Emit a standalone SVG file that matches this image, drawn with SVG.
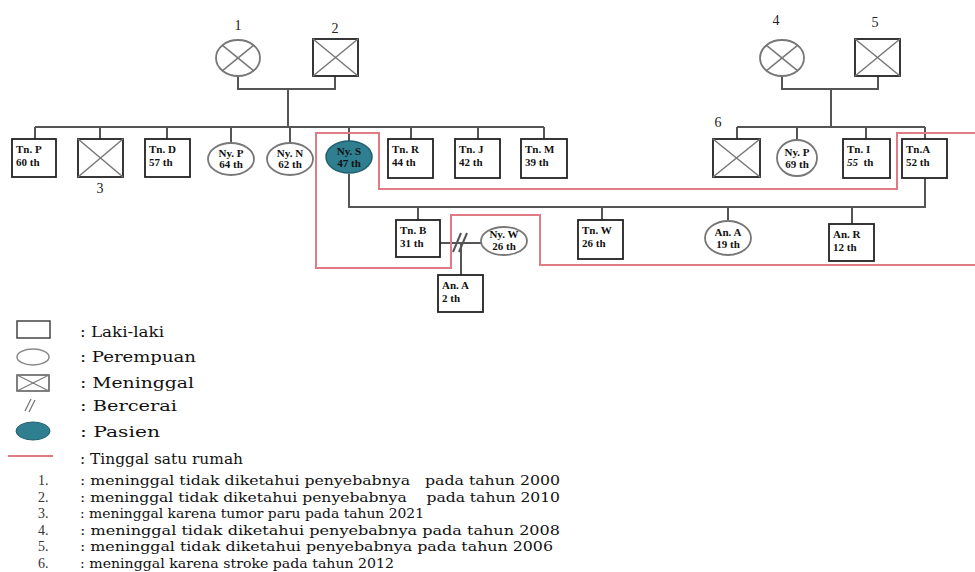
<svg xmlns="http://www.w3.org/2000/svg" width="975" height="572" viewBox="0 0 975 572">
<style>
.ln{stroke:#555;stroke-width:2;fill:none}
.bx{fill:#fff;stroke:#222;stroke-width:1.8}
.el{fill:#fff;stroke:#777;stroke-width:1.8}
.pt{fill:#2f7f91;stroke:#1f5f6f;stroke-width:1.5}
.x{stroke:#777;stroke-width:1.5}
.nt{font-family:"Liberation Serif",serif;font-weight:bold;font-size:11px;fill:#111}
.lb{font-family:"Liberation Serif",serif;font-size:14px;fill:#222;text-anchor:middle}
.lg{font-family:"DejaVu Serif",serif;font-size:15px;fill:#111}
.ls{font-family:"DejaVu Serif",serif;font-size:13px;fill:#111}
.num{font-family:"Liberation Serif",serif;font-size:14px;fill:#333}
.red{stroke:#e07a85;stroke-width:2;fill:none}
</style>
<rect width="975" height="572" fill="#fff"/>

<g id="connectors">
  <polyline class="ln" points="238,76 238,89 335,89 335,76"/>
  <line class="ln" x1="288" y1="89" x2="288" y2="127"/>
  <line class="ln" x1="35" y1="127" x2="544" y2="127"/>
  <line class="ln" x1="35" y1="127" x2="35" y2="139"/>
  <line class="ln" x1="100" y1="127" x2="100" y2="139"/>
  <line class="ln" x1="167" y1="127" x2="167" y2="139"/>
  <line class="ln" x1="231" y1="127" x2="231" y2="143"/>
  <line class="ln" x1="290" y1="127" x2="290" y2="143"/>
  <line class="ln" x1="349" y1="127" x2="349" y2="141"/>
  <line class="ln" x1="411" y1="127" x2="411" y2="139"/>
  <line class="ln" x1="478" y1="127" x2="478" y2="139"/>
  <line class="ln" x1="544" y1="127" x2="544" y2="139"/>
  <polyline class="ln" points="782,76 782,89 878,89 878,76"/>
  <line class="ln" x1="831" y1="89" x2="831" y2="127"/>
  <line class="ln" x1="737" y1="127" x2="925" y2="127"/>
  <line class="ln" x1="737" y1="127" x2="737" y2="139"/>
  <line class="ln" x1="797" y1="127" x2="797" y2="140"/>
  <line class="ln" x1="866" y1="127" x2="866" y2="139"/>
  <line class="ln" x1="925" y1="127" x2="925" y2="139"/>
  <polyline class="ln" points="349,174 349,207 925,207 925,178"/>
  <line class="ln" x1="418" y1="207" x2="418" y2="220"/>
  <line class="ln" x1="602" y1="207" x2="602" y2="220"/>
  <line class="ln" x1="728" y1="207" x2="728" y2="222"/>
  <line class="ln" x1="852" y1="207" x2="852" y2="224"/>
  <line class="ln" x1="440" y1="243" x2="481" y2="243"/>
  <line class="ln" x1="453" y1="252" x2="461" y2="233"/>
  <line class="ln" x1="459" y1="252" x2="467" y2="233"/>
  <line class="ln" x1="461" y1="243" x2="461" y2="275"/>
  <polyline class="red" points="975,133 897,133 897,189 379,189 379,133 316,133 316,268 451,268 451,215 540,215 540,265 975,265"/>
</g>

<g id="gp1">
  <ellipse class="el" cx="238" cy="58" rx="22" ry="18"/>
  <line class="x" x1="222.5" y1="45.3" x2="253.5" y2="70.7"/>
  <line class="x" x1="253.5" y1="45.3" x2="222.5" y2="70.7"/>
  <text class="lb" x="238" y="30">1</text>
</g>
<g id="gp2">
  <rect class="bx" x="313" y="39" width="45" height="37"/>
  <line class="x" x1="313" y1="39" x2="358" y2="76"/>
  <line class="x" x1="358" y1="39" x2="313" y2="76"/>
  <text class="lb" x="335" y="33">2</text>
</g>
<g id="gp4">
  <ellipse class="el" cx="782" cy="58" rx="22" ry="18"/>
  <line class="x" x1="766.5" y1="45.3" x2="797.5" y2="70.7"/>
  <line class="x" x1="797.5" y1="45.3" x2="766.5" y2="70.7"/>
  <text class="lb" x="776" y="25">4</text>
</g>
<g id="gp5">
  <rect class="bx" x="855" y="39" width="45" height="37"/>
  <line class="x" x1="855" y1="39" x2="900" y2="76"/>
  <line class="x" x1="900" y1="39" x2="855" y2="76"/>
  <text class="lb" x="875" y="27">5</text>
</g>

<g id="tn-p"><rect class="bx" x="12" y="139" width="44" height="38"/><text class="nt" x="16" y="153">Tn. P</text><text class="nt" x="16" y="166">60 th</text></g>
<g id="dec3">
  <rect class="bx" x="78" y="139" width="45" height="38"/>
  <line class="x" x1="78" y1="139" x2="123" y2="177"/>
  <line class="x" x1="123" y1="139" x2="78" y2="177"/>
  <text class="lb" x="100" y="193">3</text>
</g>
<g id="tn-d"><rect class="bx" x="145" y="139" width="45" height="38"/><text class="nt" x="149" y="153">Tn. D</text><text class="nt" x="149" y="166">57 th</text></g>
<g id="ny-p1"><ellipse class="el" cx="231" cy="159" rx="23" ry="16"/><text class="nt" x="231" y="157" text-anchor="middle">Ny. P</text><text class="nt" x="231" y="168" text-anchor="middle">64 th</text></g>
<g id="ny-n"><ellipse class="el" cx="290" cy="159" rx="23" ry="16"/><text class="nt" x="290" y="157" text-anchor="middle">Ny. N</text><text class="nt" x="290" y="168" text-anchor="middle">62 th</text></g>
<g id="ny-s"><ellipse class="pt" cx="349" cy="157" rx="23" ry="16"/><text class="nt" x="349" y="155" text-anchor="middle" fill="#12343c">Ny. S</text><text class="nt" x="349" y="167" text-anchor="middle" fill="#12343c">47 th</text></g>
<g id="tn-r"><rect class="bx" x="388" y="139" width="45" height="39"/><text class="nt" x="392" y="153">Tn. R</text><text class="nt" x="392" y="166">44 th</text></g>
<g id="tn-j"><rect class="bx" x="455" y="139" width="45" height="39"/><text class="nt" x="459" y="153">Tn. J</text><text class="nt" x="459" y="166">42 th</text></g>
<g id="tn-m"><rect class="bx" x="521" y="139" width="46" height="39"/><text class="nt" x="525" y="153">Tn. M</text><text class="nt" x="525" y="166">39 th</text></g>

<g id="dec6">
  <rect class="bx" x="713" y="139" width="47" height="38"/>
  <line class="x" x1="713" y1="139" x2="760" y2="177"/>
  <line class="x" x1="760" y1="139" x2="713" y2="177"/>
  <text class="lb" x="718" y="127">6</text>
</g>
<g id="ny-p2"><ellipse class="el" cx="797" cy="158" rx="20" ry="18"/><text class="nt" x="797" y="156" text-anchor="middle">Ny. P</text><text class="nt" x="797" y="168" text-anchor="middle">69 th</text></g>
<g id="tn-i"><rect class="bx" x="843" y="139" width="47" height="39"/><text class="nt" x="847" y="153">Tn. I</text><text class="nt" x="847" y="166" xml:space="preserve"><tspan font-style="italic">55</tspan>  th</text></g>
<g id="tn-a1"><rect class="bx" x="902" y="139" width="45" height="39"/><text class="nt" x="906" y="153">Tn.A</text><text class="nt" x="906" y="166">52 th</text></g>

<g id="tn-b"><rect class="bx" x="396" y="220" width="44" height="37"/><text class="nt" x="400" y="234">Tn. B</text><text class="nt" x="400" y="247">31 th</text></g>
<g id="ny-w"><ellipse class="el" cx="504" cy="241" rx="23" ry="14"/><text class="nt" x="504" y="238" text-anchor="middle">Ny. W</text><text class="nt" x="504" y="250" text-anchor="middle">26 th</text></g>
<g id="an-a1"><rect class="bx" x="438" y="275" width="45" height="37"/><text class="nt" x="442" y="289">An. A</text><text class="nt" x="442" y="302">2 th</text></g>
<g id="tn-w"><rect class="bx" x="578" y="220" width="45" height="39"/><text class="nt" x="582" y="234">Tn. W</text><text class="nt" x="582" y="247">26 th</text></g>
<g id="an-a2"><ellipse class="el" cx="728" cy="238" rx="23" ry="17"/><text class="nt" x="728" y="236" text-anchor="middle">An. A</text><text class="nt" x="728" y="248" text-anchor="middle">19 th</text></g>
<g id="an-r"><rect class="bx" x="829" y="224" width="45" height="37"/><text class="nt" x="833" y="238">An. R</text><text class="nt" x="833" y="251">12 th</text></g>

<g id="legend">
  <rect x="17" y="321" width="33" height="17" fill="#fff" stroke="#444" stroke-width="1.5"/>
  <ellipse cx="33" cy="357" rx="16" ry="8" fill="#fff" stroke="#888" stroke-width="1.5"/>
  <rect x="17" y="375" width="32" height="16" fill="#fff" stroke="#555" stroke-width="1.5"/>
  <line x1="17" y1="375" x2="49" y2="391" stroke="#777" stroke-width="1.2"/>
  <line x1="49" y1="375" x2="17" y2="391" stroke="#777" stroke-width="1.2"/>
  <line x1="25" y1="411" x2="31" y2="399" stroke="#777" stroke-width="1.3"/>
  <line x1="29" y1="412" x2="35" y2="400" stroke="#777" stroke-width="1.3"/>
  <ellipse cx="33" cy="431" rx="17" ry="9" fill="#2f7f91" stroke="#1f5f6f" stroke-width="1"/>
  <line x1="8" y1="456" x2="53" y2="456" stroke="#e07a85" stroke-width="2"/>
  <text class="lg" x="80" y="337" textLength="84" lengthAdjust="spacingAndGlyphs">: Laki-laki</text>
  <text class="lg" x="80" y="362" textLength="116" lengthAdjust="spacingAndGlyphs">: Perempuan</text>
  <text class="lg" x="80" y="388" textLength="114" lengthAdjust="spacingAndGlyphs">: Meninggal</text>
  <text class="lg" x="80" y="411" textLength="97" lengthAdjust="spacingAndGlyphs">: Bercerai</text>
  <text class="lg" x="80" y="437" textLength="80" lengthAdjust="spacingAndGlyphs">: Pasien</text>
  <text class="lg" x="80" y="464" textLength="163" lengthAdjust="spacingAndGlyphs">: Tinggal satu rumah</text>
  <text class="num" x="38" y="485">1.</text>
  <text class="num" x="38" y="502">2.</text>
  <text class="num" x="38" y="518">3.</text>
  <text class="num" x="38" y="535">4.</text>
  <text class="num" x="38" y="551">5.</text>
  <text class="num" x="38" y="568">6.</text>
  <text class="ls" x="80" y="485" textLength="480" lengthAdjust="spacingAndGlyphs" xml:space="preserve">: meninggal tidak diketahui penyebabnya   pada tahun 2000</text>
  <text class="ls" x="80" y="502" textLength="480" lengthAdjust="spacingAndGlyphs" xml:space="preserve">: meninggal tidak diketahui penyebabnya    pada tahun 2010</text>
  <text class="ls" x="80" y="518" textLength="344" lengthAdjust="spacingAndGlyphs">: meninggal karena tumor paru pada tahun 2021</text>
  <text class="ls" x="80" y="535" textLength="480" lengthAdjust="spacingAndGlyphs">: meninggal tidak diketahui penyebabnya pada tahun 2008</text>
  <text class="ls" x="80" y="551" textLength="473" lengthAdjust="spacingAndGlyphs">: meninggal tidak diketahui penyebabnya pada tahun 2006</text>
  <text class="ls" x="80" y="568" textLength="314" lengthAdjust="spacingAndGlyphs">: meninggal karena stroke pada tahun 2012</text>
</g>
</svg>
